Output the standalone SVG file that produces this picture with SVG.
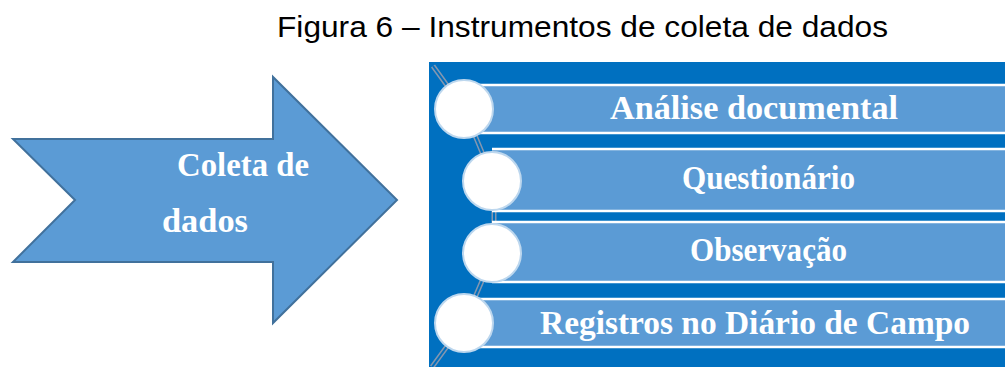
<svg xmlns="http://www.w3.org/2000/svg" width="1005" height="367" viewBox="0 0 1005 367">
  <style>
    .title { font-family: "Liberation Sans", Arial, sans-serif; font-size: 30px; fill: #000; }
    .lbl { font-family: "Liberation Serif", "Times New Roman", serif; font-weight: bold; font-size: 33px; fill: #FFFFFF; }
    .bar { fill: #5B9BD5; }
    .edge { stroke: #FFFFFF; stroke-width: 2.5; }
    .dot { fill: #FFFFFF; stroke: #BDD7EE; stroke-width: 2; }
    .lnk-o { stroke: #8497B0; stroke-width: 5; fill: none; }
    .lnk-i { stroke: #0070C0; stroke-width: 2; fill: none; }
  </style>
  <rect x="0" y="0" width="1005" height="367" fill="#FFFFFF"/>

  <text class="title" x="277" y="37" textLength="611" lengthAdjust="spacingAndGlyphs">Figura 6 – Instrumentos de coleta de dados</text>

  <g id="arrow-coleta">
    <polygon points="13,139 273,139 273,77 397,200 273,323 273,262 13,262 75,200" fill="#5B9BD5" stroke="#41719C" stroke-width="2" stroke-linejoin="miter"/>
    <text class="lbl" x="177" y="176" textLength="132" lengthAdjust="spacingAndGlyphs">Coleta de</text>
    <text class="lbl" x="162" y="232" textLength="86" lengthAdjust="spacingAndGlyphs">dados</text>
  </g>

  <g id="panel">
    <rect x="429" y="62" width="576" height="305" fill="#0070C0"/>
  </g>

  <g id="connectors">
    <path class="lnk-o" d="M433,66 L464,109 L494,181 L494,253 L464,323 L432,367"/>
    <path class="lnk-i" d="M433,66 L464,109 L494,181 L494,253 L464,323 L432,367"/>
  </g>

  <g id="node-analise">
    <rect class="bar" x="464" y="85" width="541" height="48"/>
    <line class="edge" x1="464" y1="85" x2="1005" y2="85"/>
    <line class="edge" x1="464" y1="133" x2="1005" y2="133"/>
    <circle class="dot" cx="464" cy="109" r="29"/>
    <text class="lbl" x="610" y="119" textLength="288" lengthAdjust="spacingAndGlyphs">Análise documental</text>
  </g>

  <g id="node-questionario">
    <rect class="bar" x="492" y="149" width="513" height="62"/>
    <line class="edge" x1="492" y1="149" x2="1005" y2="149"/>
    <line class="edge" x1="492" y1="211" x2="1005" y2="211"/>
    <circle class="dot" cx="492" cy="181" r="29"/>
    <text class="lbl" x="682" y="189" textLength="173" lengthAdjust="spacingAndGlyphs">Questionário</text>
  </g>

  <g id="node-observacao">
    <rect class="bar" x="492" y="222" width="513" height="60"/>
    <line class="edge" x1="492" y1="222" x2="1005" y2="222"/>
    <line class="edge" x1="492" y1="282" x2="1005" y2="282"/>
    <circle class="dot" cx="492" cy="253" r="29"/>
    <text class="lbl" x="690" y="261" textLength="157" lengthAdjust="spacingAndGlyphs">Observação</text>
  </g>

  <g id="node-registros">
    <rect class="bar" x="464" y="299" width="541" height="48"/>
    <line class="edge" x1="464" y1="299" x2="1005" y2="299"/>
    <line class="edge" x1="464" y1="347" x2="1005" y2="347"/>
    <circle class="dot" cx="464" cy="323" r="29"/>
    <text class="lbl" x="540" y="334" textLength="430" lengthAdjust="spacingAndGlyphs">Registros no Diário de Campo</text>
  </g>
</svg>
